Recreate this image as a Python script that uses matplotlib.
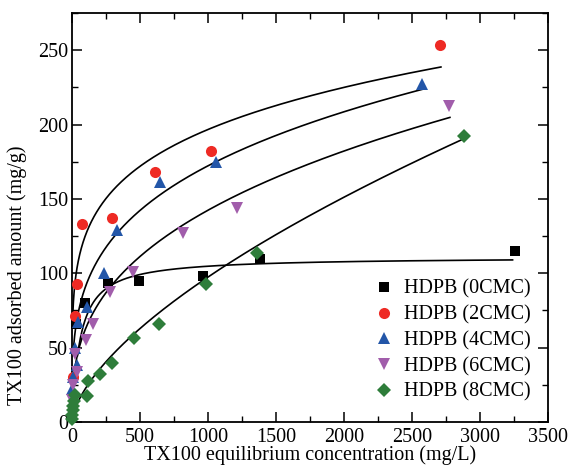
import numpy as np
import matplotlib
matplotlib.use("Agg")
import matplotlib.pyplot as plt
from matplotlib.ticker import MultipleLocator

# ---- data ----
labels = ["HDPB (0CMC)", "HDPB (2CMC)", "HDPB (4CMC)", "HDPB (6CMC)", "HDPB (8CMC)"]

c0 = [30, 96, 267, 495, 961, 1382, 3257]
q0 = [66, 79.8, 93.2, 95, 98.3, 109.3, 115]

c2 = [5, 22, 37, 71, 292, 610, 1020, 2708]
q2 = [30, 71.4, 92.5, 133, 137.3, 168.2, 182.3, 253.4]

c4 = [3, 10, 22, 34, 46, 110, 235, 333, 647, 1056, 2574]
q4 = [22, 30, 49.5, 38.3, 67, 77.5, 100.3, 129, 161.5, 175, 227]

c6 = [3, 8, 22, 34, 100, 157, 279, 451, 814, 1211, 2774]
q6 = [15, 25, 46, 33.8, 55.1, 65.9, 87.6, 101, 127.2, 144, 212.4]

c8 = [1, 3, 5, 8, 12, 20, 108, 120, 206, 292, 456, 640, 983, 1363, 2880]
q8 = [2, 5, 8, 11, 14, 18, 17.7, 27.6, 32.3, 39.4, 56.2, 65.9, 92.5, 113.8, 192.4]

# fitted isotherm parameters (Langmuir for 0CMC, Freundlich for others)
lang_qm, lang_K = 111.0, 0.0168
lang_range = (40, 3240)
freund_K = [51.5, 25.6, 12.22, 1.23]
freund_n = [0.194, 0.276, 0.3555, 0.633]
freund_range = [(3, 2713), (8, 2578), (12, 2779), (20, 2880)]

colors = ["#000000", "#ee2a24", "#2356a8", "#a15dab", "#2e7d3a"]
markers = ["s", "o", "^", "v", "D"]
msizes = [6.5, 8, 9, 9, 7]

plt.rcParams["font.family"] = ["Liberation Serif", "DejaVu Serif"]
plt.rcParams["font.size"] = 14.5
plt.rcParams["mathtext.fontset"] = "stix"

fig = plt.figure(figsize=(5.78, 4.66), dpi=100)
ax = fig.add_axes([0.1246, 0.0944, 0.8234, 0.8776])

# curves
cc = np.linspace(lang_range[0], lang_range[1], 600)
ax.plot(cc, lang_qm * lang_K * cc / (1 + lang_K * cc), color="black", lw=1.2, zorder=3)
for K, n, (a, b) in zip(freund_K, freund_n, freund_range):
    cc = np.geomspace(a, b, 600)
    ax.plot(cc, K * cc ** n, color="black", lw=1.2, zorder=3)

for cx, qy, col, mk, ms, lab in zip([c0, c2, c4, c6, c8], [q0, q2, q4, q6, q8],
                                    colors, markers, msizes, labels):
    ax.plot(cx, qy, linestyle="none", marker=mk, color=col, markersize=ms,
            markeredgewidth=0, label=lab, zorder=4, clip_on=False)

ax.set_xlim(0, 3500)
ax.set_ylim(0, 275)
ax.xaxis.set_major_locator(MultipleLocator(500))
ax.xaxis.set_minor_locator(MultipleLocator(250))
ax.yaxis.set_major_locator(MultipleLocator(50))
ax.yaxis.set_minor_locator(MultipleLocator(25))
ax.tick_params(which="both", direction="in", top=True, right=True, labelsize=14.5)
ax.tick_params(axis="x", which="both", pad=4)
ax.tick_params(axis="y", which="both", pad=3)
ax.tick_params(which="major", length=7, width=1.1)
ax.tick_params(which="minor", length=4, width=1.0)
for s in ax.spines.values():
    s.set_linewidth(1.3)

ax.set_xlabel("TX100 equilibrium concentration (mg/L)", fontsize=14.5, labelpad=-1)
ax.set_ylabel("TX100 adsorbed amount (mg/g)", fontsize=14.5)
ax.yaxis.set_label_coords(-0.095, 0.36)

ax.legend(loc="lower right", bbox_to_anchor=(0.99, 0.02), frameon=False, fontsize=14.5,
          handletextpad=0.4, labelspacing=0.32, handlelength=1.2, borderaxespad=0.2)

fig.savefig("out.png", dpi=100)
